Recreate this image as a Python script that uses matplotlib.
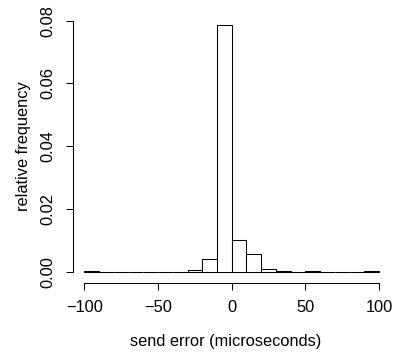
import matplotlib
matplotlib.use("Agg")
import matplotlib.pyplot as plt
import numpy as np

plt.rcParams['font.family'] = ['Liberation Sans', 'DejaVu Sans']

bin_edges = [-100, -90, -80, -70, -60, -50, -40, -30, -20, -10, 0, 10, 20, 30, 40, 50, 60, 70, 80, 90, 100]
density = [0.0002, 0.0, 0.0, 0.0, 0.0, 0.0, 0.0, 0.0005, 0.0042, 0.0785,
           0.0100, 0.0055, 0.0007, 0.0002, 0.0, 0.0001, 0.0, 0.0, 0.0, 0.0002]
x_ticks = [-100, -50, 0, 50, 100]
y_ticks = [0.00, 0.02, 0.04, 0.06, 0.08]
y_ticklabels = ["0.00", "0.02", "0.04", "0.06", "0.08"]

W, H = 393, 356
fig = plt.figure(figsize=(W/100, H/100), dpi=100)
# axes in pixel coords (top-origin): left 72.7, right 390.8, top 14.3, bottom 282.7
l, r, t, b = 72.7, 390.8, 14.3, 282.7
ax = fig.add_axes([l/W, 1 - b/H, (r-l)/W, (b-t)/H])

edges = np.array(bin_edges)
ax.bar(edges[:-1], density, width=np.diff(edges), align='edge',
       facecolor='white', edgecolor='black', linewidth=0.75)

ax.set_xlim(-108, 108)
ax.set_ylim(-0.00316 * (282.7 - 271.7) / 9.9, 0.08206)
for s in ['top', 'right']:
    ax.spines[s].set_visible(False)
ax.spines['left'].set_bounds(0, 0.08)
ax.spines['bottom'].set_bounds(-100, 100)
for s in ['left', 'bottom']:
    ax.spines[s].set_linewidth(0.75)

ax.set_xticks(x_ticks)
ax.set_yticks(y_ticks)
ax.set_yticklabels(y_ticklabels, rotation=90, va='center')
ax.tick_params(axis='both', direction='out', length=4.8, width=0.75, labelsize=11.8, pad=8)

fig.text(226/W, 1 - 341.7/H, "send error (microseconds)", ha='center', va='center', fontsize=11.8)
fig.text(24/W, 1 - 146/H, "relative frequency", ha='center', va='center', rotation=90, fontsize=11.8)

fig.savefig("out.png", dpi=100)
